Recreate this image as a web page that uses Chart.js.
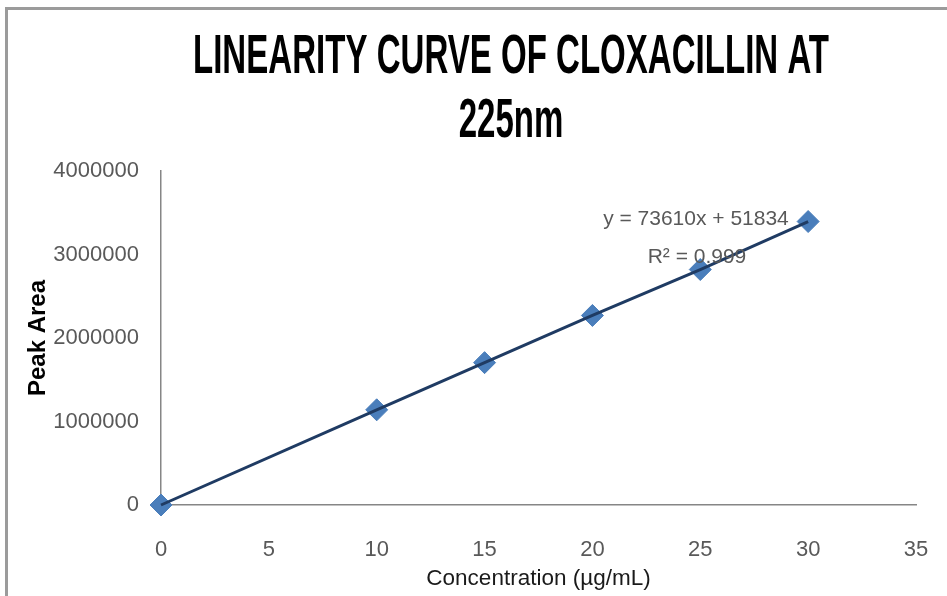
<!DOCTYPE html>
<html>
<head>
<meta charset="utf-8">
<script src="https://cdn.jsdelivr.net/npm/chart.js@4/dist/chart.umd.min.js"></script>
<style>
  html, body { margin: 0; padding: 0; background: #ffffff; }
  #c { display: block; }
</style>
</head>
<body>
<canvas id="c" width="947" height="596"></canvas>
<script>
// ---- data ----
const titleLines = ["LINEARITY CURVE OF CLOXACILLIN AT", "225nm"];
const concentrations = [0, 10, 15, 20, 25, 30];
const peakAreas = [0, 1140000, 1705000, 2270000, 2820000, 3395000];
const xTicks = [0, 5, 10, 15, 20, 25, 30, 35];
const yTicks = [0, 1000000, 2000000, 3000000, 4000000];
const xTitle = "Concentration (\u00b5g/mL)";
const yTitle = "Peak Area";
const equationLines = ["y = 73610x + 51834", "R\u00b2 = 0.999"];
const equationAnchor = [24.8, 3420000]; // data coords of equation text

const SANS = "'Liberation Sans', Arial, sans-serif";
const points = concentrations.map((x, i) => ({ x: x, y: peakAreas[i] }));

const framePlugin = {
  id: 'frame',
  beforeDraw(chart) {
    const ctx = chart.ctx;
    ctx.save();
    ctx.fillStyle = '#ffffff';
    ctx.fillRect(0, 0, chart.width, chart.height);
    ctx.strokeStyle = '#9b9b9b';
    ctx.lineWidth = 3;
    ctx.beginPath();
    ctx.moveTo(6.5, chart.height);
    ctx.lineTo(6.5, 8.5);
    ctx.lineTo(chart.width, 8.5);
    ctx.stroke();
    ctx.restore();
  }
};

const titlePlugin = {
  id: 'condensedTitle',
  afterDraw(chart) {
    const ctx = chart.ctx;
    ctx.save();
    ctx.fillStyle = '#000000';
    ctx.font = "bold 55px " + SANS;
    ctx.textAlign = 'center';
    ctx.textBaseline = 'middle';
    const w1 = ctx.measureText(titleLines[0]).width;
    const sx = 636 / w1;
    const cx = 511;
    const ys = [58, 122];
    titleLines.forEach((t, i) => {
      ctx.save();
      ctx.translate(cx, ys[i]);
      ctx.scale(sx, 1);
      ctx.fillText(t, 0, 0);
      ctx.restore();
    });
    ctx.restore();
  }
};

const equationPlugin = {
  id: 'equation',
  afterDatasetsDraw(chart) {
    const ctx = chart.ctx;
    const xs = chart.scales.x, ys = chart.scales.y;
    const px = xs.getPixelForValue(equationAnchor[0]);
    const py = ys.getPixelForValue(equationAnchor[1]);
    ctx.save();
    ctx.fillStyle = '#595959';
    ctx.font = "21px " + SANS;
    ctx.textAlign = 'center';
    ctx.textBaseline = 'middle';
    ctx.fillText(equationLines[0], px, py);
    ctx.fillText(equationLines[1], px + 1, py + 38);
    ctx.restore();
  }
};

new Chart(document.getElementById('c'), {
  type: 'scatter',
  data: {
    datasets: [
      {
        label: 'Linear',
        data: points,
        showLine: true,
        borderColor: '#1f3b63',
        borderWidth: 3,
        pointRadius: 0,
        pointHoverRadius: 0,
        clip: false,
        order: 0
      },
      {
        label: 'Peak Area',
        data: points,
        showLine: false,
        pointStyle: 'rectRot',
        pointRadius: 11,
        pointHoverRadius: 11,
        backgroundColor: '#4a7ebb',
        borderColor: '#4a7ebb',
        borderWidth: 1,
        clip: false,
        order: 1
      }
    ]
  },
  options: {
    responsive: false,
    animation: false,
    devicePixelRatio: 1,
    layout: { padding: { top: 171, left: 24, right: 31, bottom: 4 } },
    plugins: {
      legend: { display: false },
      title: { display: false },
      tooltip: { enabled: false }
    },
    scales: {
      x: {
        type: 'linear',
        min: 0, max: 35,
        afterBuildTicks: (s) => { s.ticks = xTicks.map(v => ({ value: v })); },
        afterFit: (s) => { s.height = 87; s.paddingLeft = 0; s.paddingRight = 0; },
        ticks: { color: '#595959', font: { family: SANS, size: 22 }, padding: 32 },
        grid: { drawOnChartArea: false, drawTicks: false },
        border: { display: true, color: '#868686', width: 1.5 },
        title: { display: true, text: xTitle, color: '#1a1a1a', font: { family: SANS, size: 22.5 }, padding: { top: 0, bottom: 0 } }
      },
      y: {
        type: 'linear',
        min: 0, max: 4000000,
        afterBuildTicks: (s) => { s.ticks = yTicks.map(v => ({ value: v })); },
        afterFit: (s) => { s.width = 137; s.paddingTop = 0; s.paddingBottom = 0; },
        ticks: { color: '#595959', font: { family: SANS, size: 22 }, padding: 22, callback: (v) => String(v) },
        grid: { drawOnChartArea: false, drawTicks: false },
        border: { display: true, color: '#868686', width: 1.5 },
        title: { display: true, text: yTitle, color: '#000000', font: { family: SANS, size: 24, weight: 'bold' }, padding: { top: 0, bottom: 4 } }
      }
    }
  },
  plugins: [framePlugin, titlePlugin, equationPlugin]
});
</script>
</body>
</html>
